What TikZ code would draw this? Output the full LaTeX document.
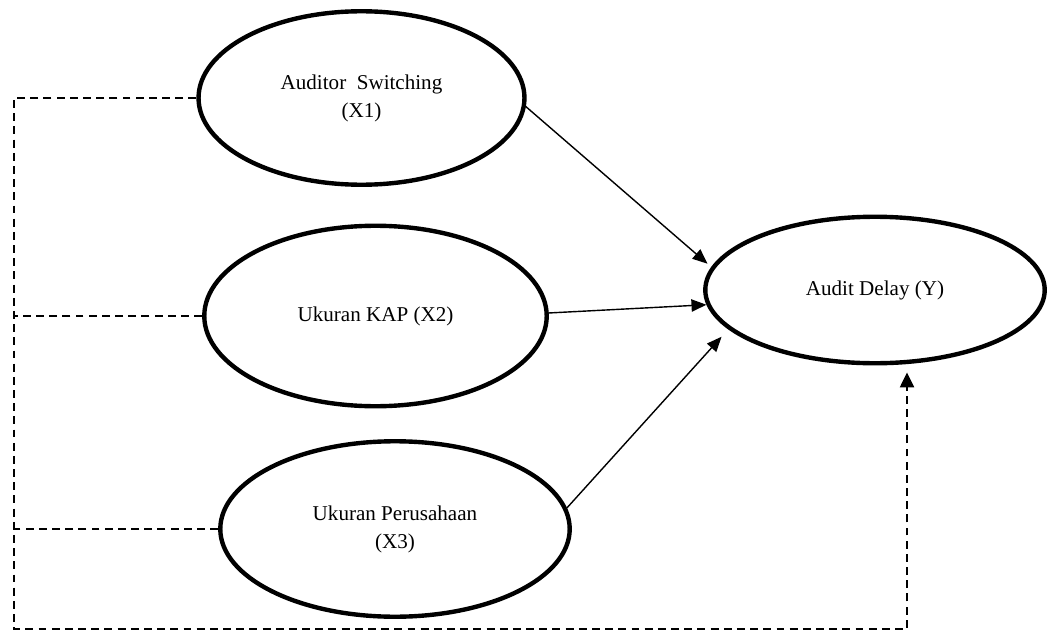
\documentclass[tikz,border=0pt]{standalone}
\usepackage{fontspec}
\setmainfont{Liberation Serif}
\usetikzlibrary{shapes.geometric,arrows.meta}

\begin{document}
\begin{tikzpicture}[x=0.02cm,y=-0.02cm]
\tikzstyle{var}=[draw,ellipse,line width=2.5pt,align=center,inner sep=0pt,font=\fontsize{12}{16}\selectfont]
\tikzstyle{pengaruh}=[line width=0.8pt,-{Triangle[length=8.5pt,width=7pt]}]
\tikzstyle{garis}=[line width=1.1pt,dash pattern=on 4.5pt off 3pt,-{Triangle[length=8.5pt,width=8pt]}]
\useasboundingbox (0,0) rectangle (1048,635);
\node[var,minimum width=6.52cm,minimum height=3.47cm] (X1) at (361.5,98) {Auditor\ \ Switching\\(X1)};
\node[var,minimum width=6.85cm,minimum height=3.61cm] (X2) at (375.5,316) {Ukuran KAP (X2)};
\node[var,minimum width=6.99cm,minimum height=3.51cm] (X3) at (395,529) {Ukuran Perusahaan\\(X3)};
\node[var,minimum width=6.79cm,minimum height=2.93cm] (Y) at (875,290) {Audit Delay (Y)};
\coordinate (c1) at (14,629);
\coordinate (c2) at (907,629);
\draw[pengaruh,shorten >=0.1cm] (X1.-3) -- (Y.172);
\draw[pengaruh] (X2.1) -- (Y.185);
\draw[pengaruh,shorten >=0.2cm] (X3.7) -- (Y.195);
\draw[garis,shorten >=0.14cm] (X1.west) -| (c1) -- (c2) -- (c2 |- Y.south);
\draw[garis,-] (X2.west) -- (X2.west -| c1);
\draw[garis,-] (X3.west) -- (X3.west -| c1);
\end{tikzpicture}
\end{document}
